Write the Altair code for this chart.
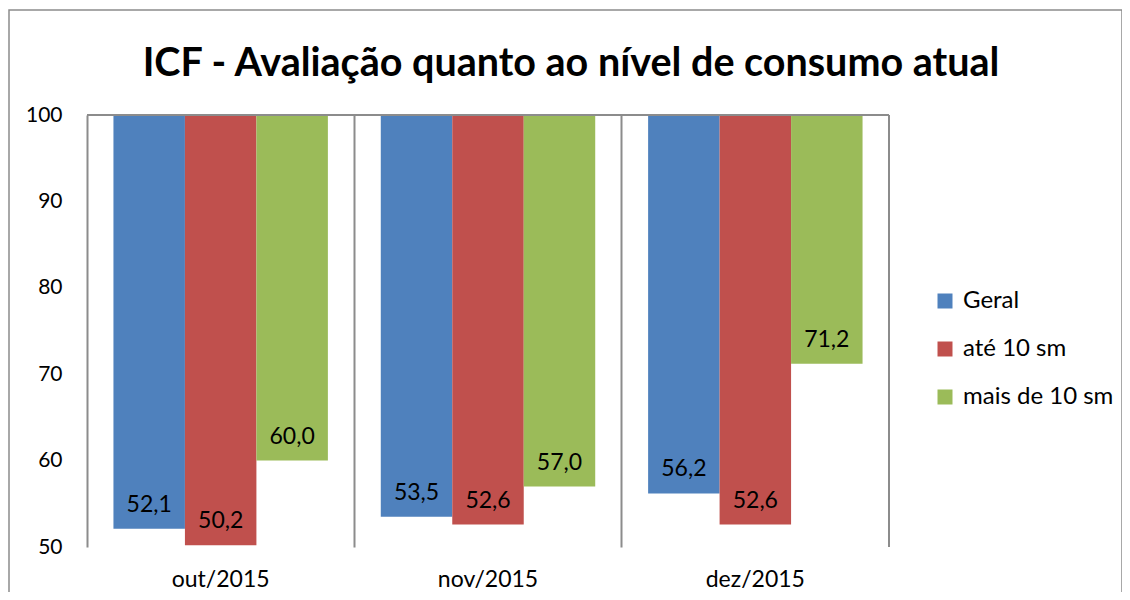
import altair as alt
import pandas as pd

categories = ["out/2015", "nov/2015", "dez/2015"]
series = ["Geral", "até 10 sm", "mais de 10 sm"]
geral = [52.1, 53.5, 56.2]
ate_10 = [50.2, 52.6, 52.6]
mais_10 = [60.0, 57.0, 71.2]
colors = ["#4F81BD", "#C0504D", "#9BBB59"]
y_ticks = [50, 60, 70, 80, 90, 100]

rows = []
for s, vals in zip(series, [geral, ate_10, mais_10]):
    for c, v in zip(categories, vals):
        rows.append({"cat": c, "serie": s, "value": v})
df = pd.DataFrame(rows)
one = pd.DataFrame({"k": [0]})

W, H = 802, 432
FONT = "Lato"
GRAY = "#8c8c8c"

x_enc = alt.X("cat:N", sort=categories,
              scale=alt.Scale(paddingInner=0, paddingOuter=0),
              axis=alt.Axis(title=None, grid=True, bandPosition=0, gridColor=GRAY,
                            gridWidth=2, domain=False, ticks=False, labelFontSize=23,
                            labelFont=FONT, labelColor="black", labelPadding=21,
                            labelAngle=0))
xo_enc = alt.XOffset("serie:N", sort=series,
                     scale=alt.Scale(paddingOuter=0.37, paddingInner=0))
y_enc = alt.Y("value:Q", scale=alt.Scale(domain=[50, 100], nice=False, zero=False),
              axis=alt.Axis(title=None, values=y_ticks, grid=False, domain=False,
                            ticks=False, labelFontSize=21, labelFont=FONT,
                            labelColor="black", labelPadding=25))

bars = alt.Chart(df).mark_bar().encode(
    x=x_enc, xOffset=xo_enc, y=y_enc, y2=alt.datum(100),
    color=alt.Color("serie:N", sort=series,
                    scale=alt.Scale(domain=series, range=colors),
                    legend=alt.Legend(title=None, orient="none", legendX=846, legendY=174,
                                      symbolType="square", symbolSize=225,
                                      symbolStrokeWidth=0, labelFontSize=24,
                                      labelFont=FONT, labelColor="black",
                                      rowPadding=24, labelOffset=6)),
)

labels = alt.Chart(df).transform_calculate(
    label="replace(format(datum.value, '.1f'), '.', ',')"
).mark_text(fontSize=23, font=FONT, color="black", baseline="middle", dy=-24).encode(
    x=x_enc, xOffset=xo_enc, y=y_enc, text="label:N"
)

right_rule = alt.Chart(one).mark_rule(color=GRAY, strokeWidth=2).encode(
    x=alt.value(W), y=alt.value(0), y2=alt.value(H))
top_rule = alt.Chart(one).mark_rule(color=GRAY, strokeWidth=2).encode(
    y=alt.value(0), x=alt.value(0), x2=alt.value(W))
border = alt.Chart(one).mark_rect(filled=False, stroke=GRAY, strokeWidth=1.5).encode(
    x=alt.value(-78), x2=alt.value(W + 233), y=alt.value(-105), y2=alt.value(H + 120))

chart = alt.layer(border, bars, labels, right_rule, top_rule).properties(
    width=W, height=H,
    title=alt.TitleParams("ICF - Avaliação quanto ao nível de consumo atual",
                          fontSize=39.5, fontWeight="bold", font=FONT, color="black",
                          anchor="middle", dx=83, offset=-75),
    autosize=alt.AutoSizeParams(type="none"),
    padding={"left": 79, "top": 107, "right": 233, "bottom": 45},
).configure_view(stroke=None)

chart.save("out.html", embed_options={"renderer": "svg", "actions": False})
